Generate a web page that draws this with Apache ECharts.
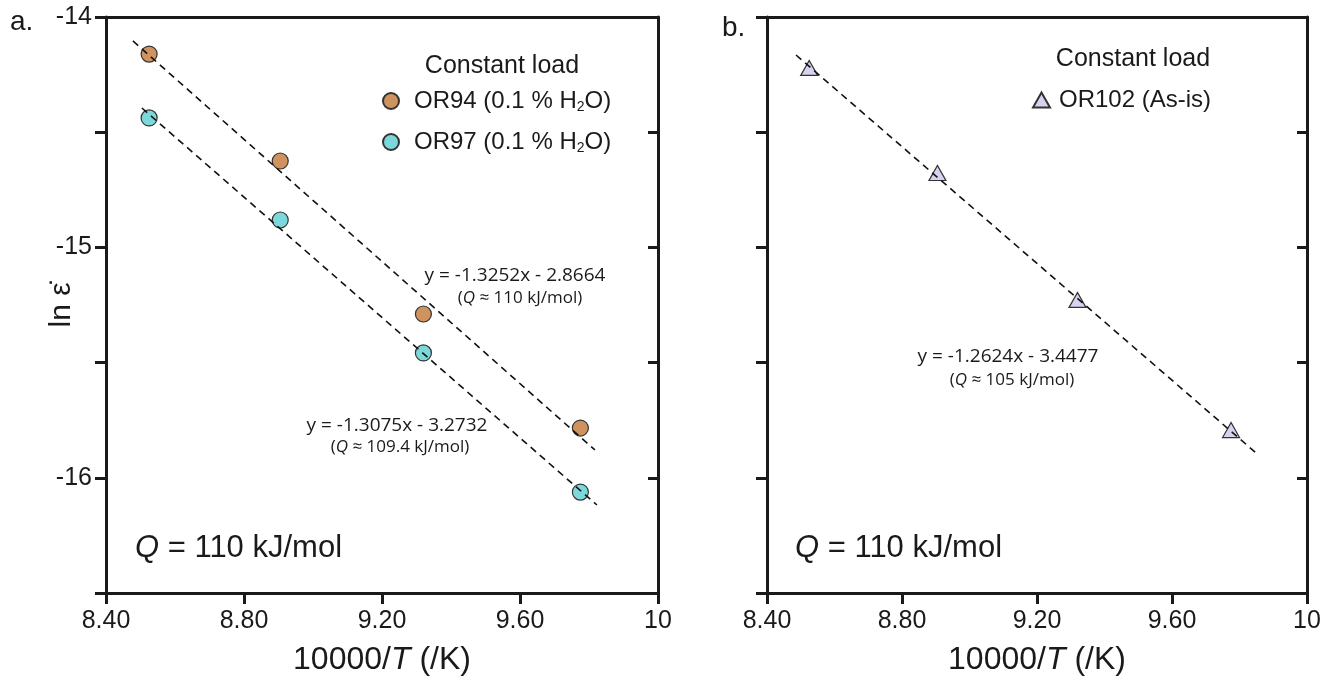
<!DOCTYPE html>
<html><head><meta charset="utf-8">
<script src="https://cdn.jsdelivr.net/npm/echarts@6/dist/echarts.min.js"></script>
<style>html,body{margin:0;padding:0;background:#fff}#c{width:1336px;height:682px}</style>
</head><body><div id="c"></div>
<script>
// ---- data ----
const invT = [8.525, 8.905, 9.320, 9.775];            // 10000/T
const or94 = [-14.161, -14.625, -15.289, -15.784];    // ln strain rate, OR94
const or97 = [-14.438, -14.881, -15.458, -16.062];    // OR97
const or102 = [-14.221, -14.677, -15.228, -15.793];   // OR102
const fit94X = [8.478, 9.817], fit94Y = [-14.104, -15.879];
const fit97X = [8.504, 9.823], fit97Y = [-14.395, -16.118];
const fit102X = [8.486, 9.849], fit102Y = [-14.165, -15.892];
const xTicks = [8.4, 8.8, 9.2, 9.6, 10];
const xTickLabels = ['8.40', '8.80', '9.20', '9.60', '10'];
const yTicks = [-14, -15, -16];
const yTickLabels = ['-14', '-15', '-16'];

const FONT = 'Liberation Sans';
const INK = '#1a1a1a';
const pairs = (xs, ys) => xs.map((x, i) => [x, ys[i]]);
const xFmt = v => { const i = xTicks.findIndex(t => Math.abs(t - v) < 1e-6); return i >= 0 ? xTickLabels[i] : ''; };
const yFmt = v => { const i = yTicks.findIndex(t => Math.abs(t - v) < 1e-6); return i >= 0 ? yTickLabels[i] : ''; };

const grids = [
  { left: 106, top: 17, width: 552, height: 576 },
  { left: 767, top: 17, width: 540, height: 576 }
];
const xBottom = (gi) => ({
  type: 'value', gridIndex: gi, min: 8.4, max: 10, interval: 0.4, position: 'bottom',
  axisLine: { show: true, onZero: false, lineStyle: { color: INK, width: 3 } },
  axisTick: { show: true, inside: false, length: 11, lineStyle: { color: INK, width: 3 } },
  axisLabel: { show: true, margin: 16, fontSize: 25, color: INK, fontFamily: FONT, formatter: xFmt },
  splitLine: { show: false },
  name: '{n|10000/}{i|T}{n| (/K)}', nameLocation: 'middle', nameGap: 51,
  nameTextStyle: { rich: { n: { fontSize: 32, fontFamily: FONT, color: INK }, i: { fontSize: 32, fontFamily: FONT, color: INK, fontStyle: 'italic' } } }
});
const xTop = gi => ({
  type: 'value', gridIndex: gi, min: 8.4, max: 10, interval: 0.4, position: 'top',
  axisLine: { show: true, onZero: false, lineStyle: { color: INK, width: 3 } },
  axisTick: { show: false }, axisLabel: { show: false }, splitLine: { show: false }
});
const yLeft = (gi, labels) => ({
  type: 'value', gridIndex: gi, min: -16.5, max: -14, interval: 0.5, position: 'left',
  axisLine: { show: true, onZero: false, lineStyle: { color: INK, width: 3 } },
  axisTick: { show: true, inside: false, length: 11, lineStyle: { color: INK, width: 3 } },
  axisLabel: { show: labels, margin: 14, fontSize: 25, color: INK, fontFamily: FONT, formatter: yFmt },
  splitLine: { show: false }
});
const yRight = gi => ({
  type: 'value', gridIndex: gi, min: -16.5, max: -14, interval: 0.5, position: 'right',
  axisLine: { show: true, onZero: false, lineStyle: { color: INK, width: 3 } },
  axisTick: { show: true, inside: true, length: 10, lineStyle: { color: INK, width: 3 } },
  axisLabel: { show: false }, splitLine: { show: false }
});

const dash = { color: '#111', width: 1.6, type: [7, 5] };
const fitLine = (name, xi, yi, data) => ({
  name, type: 'line', xAxisIndex: xi, yAxisIndex: yi, data, symbol: 'none',
  lineStyle: dash, z: 5, silent: true
});
const scat = (name, xi, yi, data, color, symbol, size) => ({
  name, type: 'scatter', xAxisIndex: xi, yAxisIndex: yi, data, symbol, symbolSize: size,
  itemStyle: { color, borderColor: '#333', borderWidth: 1.2, opacity: 1 }, z: 3
});

const legendText = { fontSize: 24, fontFamily: FONT, color: INK };
const txt = (x, y, text, size, extra) => ({
  type: 'text', x, y, style: Object.assign({ text, fontSize: size, fontFamily: FONT, fill: INK, align: 'left', verticalAlign: 'middle' }, extra || {})
});
const richTxt = (x, y, text, size, align, fam) => ({
  type: 'text', x, y, style: {
    text, align: align || 'left', verticalAlign: 'middle', fill: INK,
    rich: {
      n: { fontSize: size, fontFamily: fam || FONT, fill: INK },
      i: { fontSize: size, fontFamily: fam || FONT, fill: INK, fontStyle: 'italic' }
    }
  }
});
const EQF = 'Open Sans';

const option = {
  animation: false,
  backgroundColor: '#fff',
  grid: grids,
  xAxis: [xBottom(0), xTop(0), xBottom(1), xTop(1)],
  yAxis: [yLeft(0, true), yRight(0), yLeft(1, false), yRight(1)],
  legend: [
    {
      data: ['OR94', 'OR97'], orient: 'vertical', left: 377, top: 84, itemGap: 16,
      itemWidth: 16, itemHeight: 16,
      formatter: n => '{t|' + n + ' (0.1 % H}{s|2}{t|O)}',
      textStyle: { padding: [0, 0, 0, 10], rich: { t: Object.assign({ lineHeight: 26 }, legendText), s: { fontSize: 14, fontFamily: FONT, color: INK, verticalAlign: 'bottom', lineHeight: 26 } } }
    },
    {
      data: ['OR102'], orient: 'vertical', left: 1027, top: 82,
      itemWidth: 17, itemHeight: 15,
      formatter: n => n + ' (As-is)',
      textStyle: Object.assign({ padding: [0, 0, 0, 4], lineHeight: 26 }, legendText)
    }
  ],
  series: [
    scat('OR94', 0, 0, pairs(invT, or94), '#cf935f', 'circle', 16),
    scat('OR97', 0, 0, pairs(invT, or97), '#7dd8dc', 'circle', 16),
    fitLine('fit94', 0, 0, pairs(fit94X, fit94Y)),
    fitLine('fit97', 0, 0, pairs(fit97X, fit97Y)),
    scat('OR102', 2, 2, pairs(invT, or102), '#d6d3f0', 'triangle', [17, 15]),
    fitLine('fit102', 2, 2, pairs(fit102X, fit102Y))
  ],
  graphic: [
    txt(10, 22, 'a.', 28),
    txt(722, 28, 'b.', 28),
    txt(502, 66, 'Constant load', 25, { align: 'center' }),
    txt(1133, 59, 'Constant load', 25, { align: 'center' }),
    { type: 'text', x: 62, y: 305, rotation: Math.PI / 2,
      style: { text: 'ln ε̇', fontSize: 30, fontFamily: FONT, fill: INK, align: 'center', verticalAlign: 'middle' } },
    richTxt(515, 276, '{n|y = -1.3252x - 2.8664}', 19, 'center', EQF),
    richTxt(520, 298, '{n|(}{i|Q}{n| ≈ 110 kJ/mol)}', 17, 'center', EQF),
    richTxt(397, 426, '{n|y = -1.3075x - 3.2732}', 19, 'center', EQF),
    richTxt(400, 447, '{n|(}{i|Q}{n| ≈ 109.4 kJ/mol)}', 17, 'center', EQF),
    richTxt(1008, 357, '{n|y = -1.2624x - 3.4477}', 19, 'center', EQF),
    richTxt(1012, 380, '{n|(}{i|Q}{n| ≈ 105 kJ/mol)}', 17, 'center', EQF),
    richTxt(135, 548, '{i|Q}{n| = 110 kJ/mol}', 31, 'left'),
    richTxt(795, 548, '{i|Q}{n| = 110 kJ/mol}', 31, 'left')
  ]
};
const chart = echarts.init(document.getElementById('c'), null, { renderer: 'canvas' });
chart.setOption(option);
</script>
</body></html>
